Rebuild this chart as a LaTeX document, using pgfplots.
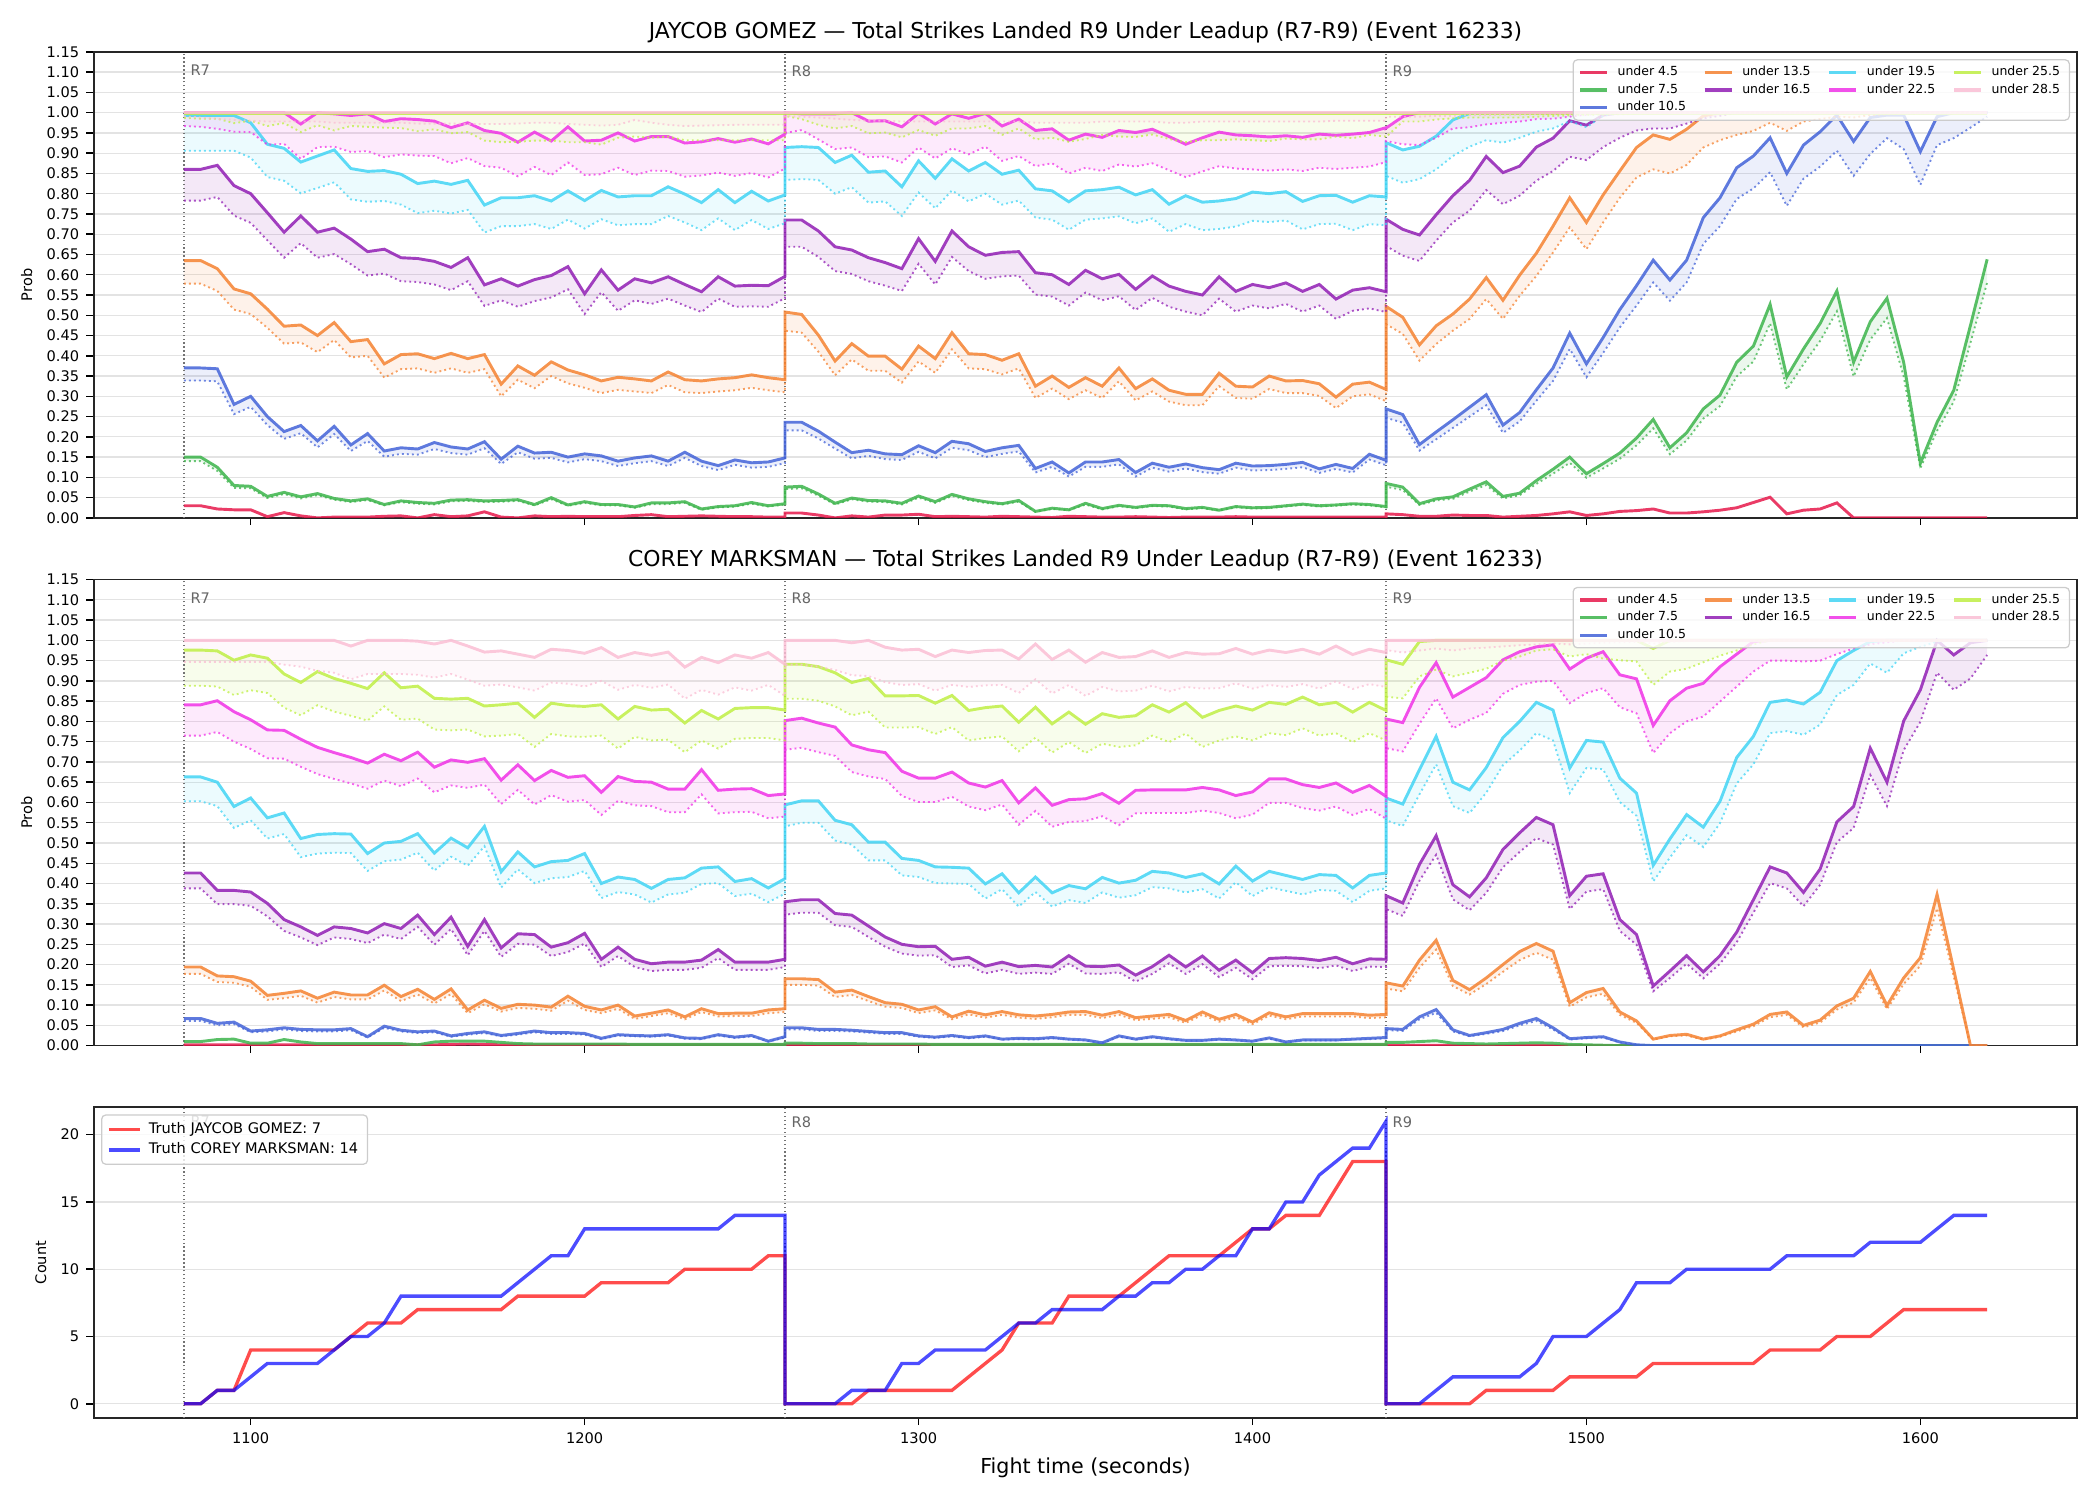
\documentclass[border=0pt]{standalone}
\usepackage{fontspec}
\setmainfont{DejaVu Sans}
\usepackage{pgfplots}
\usepackage{pgfplotstable}
\usepgfplotslibrary{fillbetween}
\pgfplotsset{compat=1.18}

\definecolor{c4}{HTML}{E6194B}
\definecolor{c7}{HTML}{3CB44B}
\definecolor{c10}{HTML}{4363D8}
\definecolor{c13}{HTML}{F58231}
\definecolor{c16}{HTML}{911EB4}
\definecolor{c19}{HTML}{42D4F4}
\definecolor{c22}{HTML}{F032E6}
\definecolor{c25}{HTML}{BFEF45}
\definecolor{c28}{HTML}{FABED4}

% JAYCOB GOMEZ: a = probability of "under X", g = gap down to the dotted lower line
\pgfplotstableread{
t a4 a7 a10 a13 a16 a19 a22 a25 a28 g7 g10 g13 g16 g19 g22 g25 g28
1080 0.030 0.150 0.370 0.635 0.860 0.993 1.000 0.998 1.000 0.010 0.031 0.057 0.077 0.087 0.033 0.011 0.009
1085 0.030 0.150 0.370 0.635 0.860 0.993 1.000 0.998 1.000 0.010 0.031 0.057 0.077 0.087 0.035 0.013 0.012
1090 0.022 0.125 0.368 0.615 0.870 0.993 1.000 0.998 1.000 0.009 0.031 0.055 0.078 0.087 0.040 0.013 0.015
1095 0.020 0.080 0.280 0.565 0.820 0.993 1.000 0.998 1.000 0.006 0.024 0.051 0.074 0.087 0.047 0.024 0.018
1100 0.020 0.078 0.300 0.553 0.800 0.975 1.000 0.998 1.000 0.005 0.026 0.050 0.072 0.086 0.048 0.018 0.020
1105 0.003 0.053 0.250 0.515 0.753 0.922 1.000 0.998 1.000 0.004 0.021 0.046 0.068 0.081 0.079 0.031 0.022
1110 0.013 0.063 0.213 0.473 0.705 0.912 1.000 0.998 1.000 0.004 0.018 0.043 0.063 0.080 0.077 0.024 0.022
1115 0.005 0.052 0.228 0.476 0.745 0.878 0.972 0.998 1.000 0.004 0.019 0.043 0.067 0.077 0.086 0.046 0.022
1120 0.000 0.060 0.190 0.450 0.705 0.893 1.000 0.998 1.000 0.004 0.016 0.041 0.063 0.079 0.085 0.029 0.022
1125 0.002 0.048 0.226 0.482 0.715 0.908 0.997 0.998 1.000 0.003 0.019 0.043 0.064 0.080 0.081 0.042 0.025
1130 0.002 0.042 0.180 0.435 0.688 0.862 0.993 0.998 1.000 0.003 0.015 0.039 0.062 0.076 0.090 0.031 0.025
1135 0.002 0.047 0.208 0.440 0.657 0.855 0.997 0.998 1.000 0.003 0.018 0.040 0.059 0.075 0.092 0.033 0.025
1140 0.004 0.033 0.165 0.380 0.663 0.857 0.978 0.998 1.000 0.002 0.014 0.034 0.060 0.075 0.088 0.035 0.025
1145 0.005 0.042 0.173 0.403 0.642 0.848 0.985 0.998 1.000 0.003 0.015 0.036 0.058 0.075 0.088 0.036 0.025
1150 0.000 0.038 0.170 0.405 0.640 0.825 0.983 0.998 1.000 0.003 0.014 0.036 0.058 0.073 0.089 0.044 0.027
1155 0.008 0.036 0.186 0.393 0.633 0.831 0.979 0.998 1.000 0.003 0.016 0.035 0.057 0.073 0.086 0.039 0.027
1160 0.003 0.044 0.175 0.406 0.618 0.823 0.963 0.998 1.000 0.003 0.015 0.037 0.056 0.072 0.088 0.049 0.027
1165 0.005 0.045 0.170 0.393 0.642 0.833 0.975 0.998 1.000 0.003 0.014 0.035 0.058 0.073 0.087 0.046 0.028
1170 0.015 0.042 0.188 0.403 0.575 0.772 0.956 0.998 1.000 0.003 0.016 0.036 0.052 0.068 0.088 0.067 0.028
1175 0.002 0.043 0.145 0.330 0.590 0.790 0.949 0.998 1.000 0.003 0.012 0.030 0.053 0.070 0.085 0.071 0.028
1180 0.000 0.045 0.177 0.375 0.572 0.790 0.927 0.998 1.000 0.003 0.015 0.034 0.051 0.070 0.084 0.070 0.027
1185 0.005 0.033 0.160 0.352 0.588 0.795 0.952 0.998 1.000 0.002 0.014 0.032 0.053 0.070 0.086 0.067 0.025
1190 0.003 0.050 0.162 0.385 0.598 0.782 0.930 0.998 1.000 0.004 0.014 0.035 0.054 0.069 0.084 0.067 0.025
1195 0.004 0.032 0.150 0.365 0.620 0.807 0.965 0.998 1.000 0.002 0.013 0.033 0.056 0.071 0.088 0.071 0.028
1200 0.003 0.040 0.158 0.353 0.553 0.783 0.930 0.998 1.000 0.003 0.013 0.032 0.050 0.069 0.084 0.071 0.030
1205 0.003 0.033 0.153 0.338 0.612 0.808 0.932 0.998 1.000 0.002 0.013 0.030 0.055 0.071 0.084 0.077 0.032
1210 0.003 0.033 0.140 0.347 0.562 0.792 0.950 0.998 1.000 0.002 0.012 0.031 0.051 0.070 0.086 0.060 0.030
1215 0.006 0.027 0.148 0.343 0.590 0.795 0.930 0.998 1.000 0.002 0.013 0.031 0.053 0.070 0.084 0.057 0.018
1220 0.008 0.037 0.153 0.338 0.580 0.795 0.941 0.998 1.000 0.003 0.013 0.030 0.052 0.070 0.084 0.060 0.025
1225 0.003 0.037 0.140 0.360 0.595 0.817 0.941 0.998 1.000 0.003 0.012 0.032 0.054 0.072 0.085 0.057 0.030
1230 0.004 0.040 0.162 0.341 0.576 0.799 0.925 0.998 1.000 0.003 0.014 0.031 0.052 0.070 0.083 0.066 0.033
1235 0.005 0.022 0.140 0.338 0.558 0.778 0.928 0.998 1.000 0.002 0.012 0.030 0.050 0.068 0.083 0.066 0.032
1240 0.004 0.028 0.129 0.343 0.595 0.810 0.936 0.998 1.000 0.002 0.011 0.031 0.054 0.071 0.084 0.066 0.031
1245 0.003 0.030 0.143 0.346 0.572 0.778 0.927 0.998 1.000 0.002 0.012 0.031 0.051 0.068 0.083 0.066 0.030
1250 0.003 0.038 0.136 0.353 0.574 0.806 0.935 0.998 1.000 0.003 0.012 0.032 0.052 0.071 0.084 0.066 0.030
1255 0.002 0.030 0.138 0.346 0.573 0.782 0.923 0.998 1.000 0.002 0.012 0.031 0.052 0.069 0.083 0.066 0.030
1260 0.002 0.035 0.148 0.341 0.596 0.797 0.947 0.998 1.000 0.002 0.013 0.031 0.054 0.070 0.085 0.066 0.030
1260 0.012 0.076 0.236 0.508 0.735 0.914 1.000 0.998 1.000 0.005 0.020 0.046 0.066 0.080 0.050 0.006 0.008
1265 0.012 0.078 0.236 0.502 0.735 0.916 0.997 0.998 1.000 0.005 0.020 0.045 0.066 0.080 0.040 0.014 0.010
1270 0.007 0.059 0.214 0.451 0.708 0.914 0.997 0.998 1.000 0.004 0.018 0.041 0.064 0.080 0.063 0.028 0.012
1275 0.000 0.036 0.187 0.387 0.669 0.877 0.997 0.998 1.000 0.003 0.016 0.035 0.060 0.077 0.087 0.037 0.015
1280 0.005 0.049 0.161 0.430 0.661 0.895 1.000 0.998 1.000 0.003 0.014 0.039 0.059 0.079 0.086 0.031 0.018
1285 0.002 0.043 0.167 0.399 0.642 0.853 0.979 0.998 1.000 0.003 0.014 0.036 0.058 0.075 0.089 0.049 0.020
1290 0.007 0.042 0.158 0.399 0.630 0.856 0.980 0.998 1.000 0.003 0.013 0.036 0.057 0.075 0.088 0.047 0.020
1295 0.007 0.036 0.156 0.367 0.615 0.817 0.965 0.998 1.000 0.003 0.013 0.033 0.055 0.072 0.088 0.059 0.022
1300 0.009 0.054 0.178 0.424 0.689 0.881 0.998 0.998 1.000 0.004 0.015 0.038 0.062 0.078 0.084 0.041 0.022
1305 0.003 0.040 0.161 0.393 0.633 0.838 0.972 0.998 1.000 0.003 0.014 0.035 0.057 0.074 0.085 0.055 0.022
1310 0.004 0.058 0.189 0.457 0.708 0.886 0.997 0.998 1.000 0.004 0.016 0.041 0.064 0.078 0.085 0.037 0.022
1315 0.003 0.047 0.183 0.405 0.669 0.856 0.986 0.998 1.000 0.003 0.016 0.036 0.060 0.075 0.089 0.037 0.022
1320 0.002 0.040 0.164 0.403 0.648 0.877 0.998 0.998 1.000 0.003 0.014 0.036 0.058 0.077 0.082 0.031 0.022
1325 0.004 0.035 0.173 0.389 0.655 0.848 0.967 0.998 1.000 0.002 0.015 0.035 0.059 0.075 0.086 0.053 0.022
1330 0.003 0.043 0.179 0.405 0.657 0.858 0.984 0.998 1.000 0.003 0.015 0.036 0.059 0.075 0.091 0.037 0.022
1335 0.002 0.016 0.122 0.325 0.605 0.812 0.956 0.998 1.000 0.001 0.010 0.029 0.054 0.071 0.088 0.064 0.025
1340 0.001 0.024 0.138 0.350 0.600 0.807 0.960 0.998 1.000 0.002 0.012 0.031 0.054 0.071 0.085 0.060 0.025
1345 0.004 0.020 0.111 0.322 0.576 0.780 0.932 0.998 1.000 0.001 0.009 0.029 0.052 0.069 0.082 0.070 0.025
1350 0.003 0.036 0.138 0.346 0.611 0.807 0.947 0.998 1.000 0.003 0.012 0.031 0.055 0.071 0.083 0.063 0.025
1355 0.002 0.023 0.138 0.325 0.590 0.810 0.939 0.998 1.000 0.002 0.012 0.029 0.053 0.071 0.083 0.053 0.022
1360 0.002 0.031 0.144 0.370 0.601 0.816 0.956 0.998 1.000 0.002 0.012 0.033 0.054 0.072 0.084 0.057 0.022
1365 0.003 0.026 0.112 0.319 0.564 0.797 0.951 0.998 1.000 0.002 0.010 0.029 0.051 0.070 0.084 0.058 0.022
1370 0.002 0.031 0.135 0.343 0.597 0.810 0.959 0.998 1.000 0.002 0.011 0.031 0.054 0.071 0.084 0.052 0.022
1375 0.001 0.030 0.125 0.315 0.572 0.774 0.941 0.998 1.000 0.002 0.011 0.028 0.051 0.068 0.083 0.063 0.025
1380 0.002 0.023 0.133 0.305 0.559 0.795 0.922 0.998 1.000 0.002 0.011 0.027 0.050 0.070 0.081 0.071 0.025
1385 0.002 0.026 0.124 0.305 0.550 0.779 0.938 0.998 1.000 0.002 0.011 0.027 0.050 0.069 0.083 0.066 0.022
1390 0.002 0.019 0.119 0.357 0.595 0.782 0.952 0.998 1.000 0.001 0.010 0.032 0.054 0.069 0.084 0.066 0.022
1395 0.003 0.028 0.135 0.325 0.559 0.788 0.945 0.998 1.000 0.002 0.011 0.029 0.050 0.069 0.083 0.064 0.022
1400 0.002 0.025 0.128 0.323 0.576 0.804 0.943 0.998 1.000 0.002 0.011 0.029 0.052 0.071 0.083 0.066 0.022
1405 0.002 0.026 0.129 0.350 0.568 0.800 0.940 0.998 1.000 0.002 0.011 0.032 0.051 0.070 0.083 0.068 0.022
1410 0.002 0.030 0.132 0.338 0.580 0.805 0.943 0.998 1.000 0.002 0.011 0.030 0.052 0.071 0.083 0.062 0.022
1415 0.002 0.034 0.137 0.339 0.559 0.781 0.939 0.998 1.000 0.002 0.012 0.031 0.050 0.069 0.083 0.064 0.022
1420 0.002 0.030 0.121 0.331 0.576 0.795 0.947 0.998 1.000 0.002 0.010 0.030 0.052 0.070 0.083 0.064 0.022
1425 0.002 0.032 0.132 0.298 0.540 0.796 0.944 0.998 1.000 0.002 0.011 0.027 0.049 0.070 0.083 0.057 0.020
1430 0.002 0.035 0.122 0.330 0.562 0.779 0.947 0.998 1.000 0.002 0.010 0.030 0.051 0.069 0.083 0.061 0.020
1435 0.002 0.033 0.157 0.335 0.568 0.795 0.951 0.998 1.000 0.002 0.013 0.030 0.051 0.070 0.084 0.053 0.020
1440 0.002 0.028 0.142 0.317 0.558 0.792 0.963 0.998 1.000 0.002 0.012 0.029 0.050 0.070 0.085 0.057 0.020
1440 0.010 0.085 0.269 0.522 0.737 0.926 0.962 0.998 1.000 0.008 0.022 0.044 0.066 0.082 0.032 0.058 0.010
1445 0.008 0.076 0.255 0.495 0.712 0.908 0.990 0.998 1.000 0.007 0.020 0.041 0.065 0.081 0.068 0.020 0.010
1450 0.004 0.035 0.181 0.427 0.698 0.917 1.000 0.998 1.000 0.003 0.015 0.039 0.064 0.081 0.080 0.020 0.010
1455 0.004 0.047 0.212 0.474 0.748 0.942 1.000 0.998 1.000 0.004 0.018 0.045 0.064 0.082 0.062 0.015 0.008
1460 0.007 0.052 0.242 0.503 0.795 0.982 1.000 0.998 1.000 0.005 0.020 0.041 0.066 0.089 0.039 0.012 0.008
1465 0.006 0.071 0.273 0.540 0.833 0.998 1.000 0.998 1.000 0.006 0.023 0.049 0.075 0.082 0.036 0.010 0.006
1470 0.006 0.089 0.304 0.593 0.892 1.000 1.000 0.998 1.000 0.008 0.026 0.053 0.083 0.068 0.029 0.010 0.006
1475 0.002 0.053 0.229 0.537 0.852 1.000 1.000 0.998 1.000 0.005 0.019 0.046 0.078 0.074 0.025 0.010 0.005
1480 0.004 0.061 0.260 0.599 0.868 1.000 1.000 0.998 1.000 0.005 0.022 0.051 0.073 0.062 0.022 0.010 0.005
1485 0.006 0.092 0.316 0.653 0.915 1.000 1.000 0.998 1.000 0.008 0.027 0.056 0.083 0.047 0.016 0.008 0.004
1490 0.010 0.120 0.370 0.720 0.937 1.000 1.000 0.998 1.000 0.011 0.032 0.065 0.081 0.039 0.015 0.006 0.004
1495 0.015 0.150 0.456 0.790 0.980 1.000 1.000 0.998 1.000 0.014 0.039 0.073 0.089 0.021 0.010 0.005 0.003
1500 0.006 0.109 0.380 0.729 0.969 1.000 1.000 0.998 1.000 0.010 0.033 0.066 0.086 0.036 0.005 0.004 0.003
1505 0.010 0.134 0.445 0.797 0.994 1.000 1.000 0.998 1.000 0.012 0.038 0.068 0.079 0.008 0.002 0.003 0.002
1510 0.016 0.160 0.514 0.856 1.000 1.000 1.000 0.998 1.000 0.014 0.044 0.066 0.062 0.000 0.000 0.002 0.002
1515 0.018 0.197 0.573 0.914 1.000 1.000 1.000 0.998 1.000 0.018 0.049 0.074 0.044 0.000 0.000 0.001 0.000
1520 0.022 0.243 0.636 0.945 1.000 1.000 1.000 0.998 1.000 0.022 0.055 0.085 0.039 0.000 0.000 0.000 0.000
1525 0.012 0.173 0.587 0.934 1.000 1.000 1.000 0.998 1.000 0.016 0.051 0.084 0.039 0.000 0.000 0.000 0.000
1530 0.012 0.210 0.636 0.959 1.000 1.000 1.000 0.998 1.000 0.019 0.055 0.088 0.027 0.000 0.000 0.000 0.000
1535 0.015 0.269 0.741 0.992 1.000 1.000 1.000 0.998 1.000 0.024 0.065 0.078 0.014 0.000 0.000 0.000 0.000
1540 0.019 0.303 0.790 1.000 1.000 1.000 1.000 0.998 1.000 0.027 0.070 0.068 0.008 0.000 0.000 0.000 0.000
1545 0.025 0.384 0.864 1.000 1.000 1.000 1.000 0.998 1.000 0.035 0.077 0.055 0.000 0.000 0.000 0.000 0.000
1550 0.038 0.424 0.893 1.000 1.000 1.000 1.000 0.998 1.000 0.038 0.080 0.045 0.000 0.000 0.000 0.000 0.000
1555 0.051 0.527 0.938 1.000 1.000 1.000 1.000 0.998 1.000 0.047 0.085 0.025 0.000 0.000 0.000 0.000 0.000
1560 0.010 0.348 0.850 1.000 1.000 1.000 1.000 0.998 1.000 0.031 0.080 0.045 0.000 0.000 0.000 0.000 0.000
1565 0.019 0.417 0.920 1.000 1.000 1.000 1.000 0.998 1.000 0.038 0.083 0.022 0.000 0.000 0.000 0.000 0.000
1570 0.022 0.480 0.953 1.000 1.000 1.000 1.000 0.998 1.000 0.043 0.086 0.016 0.000 0.000 0.000 0.000 0.000
1575 0.037 0.560 0.994 1.000 1.000 1.000 1.000 0.998 1.000 0.050 0.088 0.010 0.000 0.000 0.000 0.000 0.000
1580 0.000 0.384 0.929 1.000 1.000 1.000 1.000 0.998 1.000 0.035 0.085 0.012 0.000 0.000 0.000 0.000 0.000
1585 0.000 0.484 0.988 1.000 1.000 1.000 1.000 0.998 1.000 0.044 0.090 0.006 0.000 0.000 0.000 0.000 0.000
1590 0.000 0.542 0.994 1.000 1.000 1.000 1.000 0.998 1.000 0.049 0.057 0.004 0.000 0.000 0.000 0.000 0.000
1595 0.000 0.384 0.994 1.000 1.000 1.000 1.000 0.998 1.000 0.035 0.084 0.003 0.000 0.000 0.000 0.000 0.000
1600 0.000 0.135 0.904 1.000 1.000 1.000 1.000 0.998 1.000 0.012 0.082 0.002 0.000 0.000 0.000 0.000 0.000
1605 0.000 0.236 0.990 1.000 1.000 1.000 1.000 0.998 1.000 0.021 0.070 0.000 0.000 0.000 0.000 0.000 0.000
1610 0.000 0.315 1.000 1.000 1.000 1.000 1.000 0.998 1.000 0.028 0.063 0.000 0.000 0.000 0.000 0.000 0.000
1615 0.000 0.475 1.000 1.000 1.000 1.000 1.000 0.998 1.000 0.043 0.037 0.000 0.000 0.000 0.000 0.000 0.000
1620 0.000 0.638 1.000 1.000 1.000 1.000 1.000 0.998 1.000 0.057 0.010 0.000 0.000 0.000 0.000 0.000 0.000
}\jgdata

% COREY MARKSMAN
\pgfplotstableread{
t a4 a7 a10 a13 a16 a19 a22 a25 a28 g10 g13 g16 g19 g22 g25 g28
1080 0.002 0.010 0.067 0.194 0.426 0.663 0.841 0.976 1.000 0.006 0.017 0.038 0.060 0.076 0.088 0.053
1085 0.002 0.010 0.067 0.194 0.426 0.663 0.841 0.976 1.000 0.006 0.017 0.038 0.060 0.076 0.088 0.053
1090 0.002 0.015 0.055 0.172 0.383 0.650 0.851 0.974 1.000 0.005 0.015 0.034 0.059 0.077 0.088 0.053
1095 0.002 0.016 0.058 0.170 0.383 0.590 0.824 0.951 1.000 0.005 0.015 0.034 0.053 0.074 0.086 0.053
1100 0.002 0.006 0.036 0.159 0.379 0.611 0.804 0.964 1.000 0.003 0.014 0.034 0.055 0.072 0.087 0.053
1105 0.002 0.006 0.039 0.124 0.351 0.562 0.779 0.956 1.000 0.004 0.011 0.032 0.051 0.070 0.086 0.053
1110 0.002 0.015 0.044 0.129 0.311 0.574 0.778 0.917 1.000 0.004 0.012 0.028 0.052 0.070 0.083 0.060
1115 0.002 0.009 0.040 0.135 0.293 0.511 0.756 0.896 1.000 0.004 0.012 0.026 0.046 0.068 0.081 0.065
1120 0.002 0.005 0.039 0.117 0.272 0.521 0.736 0.923 1.000 0.004 0.011 0.024 0.047 0.066 0.083 0.075
1125 0.002 0.005 0.039 0.132 0.293 0.523 0.723 0.906 1.000 0.004 0.012 0.026 0.047 0.065 0.082 0.080
1130 0.002 0.005 0.042 0.125 0.289 0.522 0.711 0.894 0.986 0.004 0.011 0.026 0.047 0.064 0.080 0.082
1135 0.002 0.005 0.022 0.125 0.278 0.474 0.697 0.881 1.000 0.002 0.011 0.025 0.043 0.063 0.079 0.083
1140 0.002 0.005 0.048 0.149 0.301 0.500 0.719 0.920 1.000 0.004 0.013 0.027 0.045 0.065 0.083 0.083
1145 0.002 0.005 0.038 0.121 0.289 0.504 0.703 0.883 1.000 0.003 0.011 0.026 0.045 0.063 0.079 0.083
1150 0.002 0.002 0.034 0.139 0.322 0.523 0.724 0.887 0.998 0.003 0.013 0.029 0.047 0.065 0.080 0.083
1155 0.002 0.009 0.036 0.114 0.274 0.475 0.687 0.857 0.991 0.003 0.010 0.025 0.043 0.062 0.077 0.083
1160 0.003 0.011 0.024 0.140 0.317 0.512 0.705 0.855 1.000 0.002 0.013 0.029 0.046 0.063 0.077 0.083
1165 0.004 0.011 0.030 0.088 0.245 0.488 0.699 0.857 0.986 0.003 0.008 0.022 0.044 0.063 0.077 0.083
1170 0.003 0.011 0.034 0.112 0.311 0.541 0.708 0.838 0.971 0.003 0.010 0.028 0.049 0.064 0.075 0.083
1175 0.002 0.008 0.025 0.092 0.241 0.429 0.655 0.841 0.974 0.002 0.008 0.022 0.039 0.059 0.076 0.083
1180 0.002 0.005 0.030 0.102 0.276 0.478 0.693 0.845 0.966 0.003 0.009 0.025 0.043 0.062 0.076 0.082
1185 0.002 0.004 0.036 0.100 0.274 0.441 0.654 0.810 0.958 0.003 0.009 0.025 0.040 0.059 0.073 0.082
1190 0.002 0.004 0.032 0.095 0.243 0.454 0.679 0.845 0.978 0.003 0.009 0.022 0.041 0.061 0.076 0.082
1195 0.002 0.004 0.032 0.122 0.254 0.457 0.662 0.839 0.975 0.003 0.011 0.023 0.041 0.060 0.076 0.082
1200 0.002 0.004 0.030 0.097 0.277 0.474 0.666 0.837 0.968 0.003 0.009 0.025 0.043 0.060 0.075 0.082
1205 0.002 0.004 0.018 0.088 0.213 0.400 0.625 0.841 0.982 0.002 0.008 0.019 0.036 0.056 0.076 0.082
1210 0.002 0.004 0.027 0.100 0.243 0.416 0.664 0.806 0.958 0.002 0.009 0.022 0.037 0.060 0.073 0.080
1215 0.002 0.003 0.025 0.073 0.213 0.410 0.652 0.837 0.970 0.002 0.007 0.019 0.037 0.059 0.075 0.080
1220 0.002 0.003 0.024 0.080 0.202 0.388 0.650 0.828 0.963 0.002 0.007 0.018 0.035 0.059 0.075 0.080
1225 0.002 0.003 0.027 0.088 0.206 0.410 0.633 0.830 0.971 0.002 0.008 0.019 0.037 0.057 0.075 0.080
1230 0.002 0.003 0.019 0.071 0.206 0.414 0.633 0.796 0.934 0.002 0.006 0.019 0.037 0.057 0.072 0.078
1235 0.002 0.003 0.018 0.091 0.211 0.438 0.681 0.827 0.958 0.002 0.008 0.019 0.039 0.061 0.074 0.080
1240 0.002 0.003 0.027 0.079 0.237 0.441 0.630 0.806 0.945 0.002 0.007 0.021 0.040 0.057 0.073 0.079
1245 0.002 0.003 0.021 0.080 0.206 0.405 0.633 0.832 0.964 0.002 0.007 0.019 0.036 0.057 0.075 0.080
1250 0.002 0.003 0.025 0.080 0.206 0.412 0.634 0.834 0.956 0.002 0.007 0.019 0.037 0.057 0.075 0.080
1255 0.002 0.003 0.011 0.088 0.206 0.389 0.617 0.834 0.970 0.001 0.008 0.019 0.035 0.056 0.075 0.080
1260 0.002 0.003 0.022 0.091 0.213 0.412 0.621 0.828 0.941 0.002 0.008 0.019 0.037 0.056 0.075 0.078
1260 0.002 0.006 0.044 0.165 0.355 0.594 0.802 0.941 1.000 0.004 0.015 0.032 0.053 0.072 0.085 0.060
1265 0.002 0.006 0.044 0.165 0.360 0.604 0.808 0.941 1.000 0.004 0.015 0.032 0.054 0.073 0.085 0.060
1270 0.002 0.005 0.040 0.163 0.360 0.604 0.796 0.935 1.000 0.004 0.015 0.032 0.054 0.072 0.084 0.065
1275 0.002 0.005 0.040 0.132 0.326 0.556 0.786 0.920 1.000 0.004 0.012 0.029 0.050 0.071 0.083 0.073
1280 0.002 0.005 0.038 0.137 0.322 0.545 0.742 0.896 0.994 0.003 0.012 0.029 0.049 0.067 0.081 0.080
1285 0.002 0.004 0.035 0.121 0.295 0.502 0.730 0.906 1.000 0.003 0.011 0.027 0.045 0.066 0.082 0.088
1290 0.002 0.004 0.032 0.106 0.268 0.502 0.723 0.863 0.983 0.003 0.010 0.024 0.045 0.065 0.078 0.086
1295 0.002 0.004 0.032 0.102 0.250 0.462 0.677 0.863 0.976 0.003 0.009 0.023 0.042 0.061 0.078 0.086
1300 0.002 0.004 0.024 0.088 0.244 0.457 0.660 0.864 0.978 0.002 0.008 0.022 0.041 0.059 0.078 0.086
1305 0.002 0.003 0.021 0.096 0.245 0.441 0.660 0.845 0.960 0.002 0.009 0.022 0.040 0.059 0.076 0.084
1310 0.002 0.003 0.025 0.071 0.213 0.440 0.675 0.864 0.976 0.002 0.006 0.019 0.040 0.061 0.078 0.086
1315 0.002 0.003 0.020 0.085 0.218 0.438 0.648 0.827 0.970 0.002 0.008 0.020 0.039 0.058 0.074 0.085
1320 0.002 0.003 0.024 0.076 0.196 0.399 0.638 0.834 0.975 0.002 0.007 0.018 0.036 0.057 0.075 0.086
1325 0.002 0.003 0.016 0.084 0.206 0.424 0.654 0.838 0.976 0.001 0.008 0.019 0.038 0.059 0.075 0.086
1330 0.002 0.003 0.018 0.076 0.195 0.377 0.599 0.798 0.954 0.002 0.007 0.018 0.034 0.054 0.072 0.084
1335 0.002 0.003 0.017 0.073 0.198 0.416 0.636 0.835 0.991 0.002 0.007 0.018 0.037 0.057 0.075 0.087
1340 0.002 0.003 0.020 0.077 0.194 0.377 0.593 0.794 0.953 0.002 0.007 0.017 0.034 0.053 0.071 0.084
1345 0.002 0.003 0.016 0.083 0.222 0.395 0.607 0.823 0.976 0.001 0.007 0.020 0.036 0.055 0.074 0.086
1350 0.002 0.003 0.014 0.084 0.196 0.387 0.609 0.793 0.946 0.001 0.008 0.018 0.035 0.055 0.071 0.083
1355 0.002 0.003 0.007 0.075 0.195 0.415 0.622 0.819 0.970 0.001 0.007 0.018 0.037 0.056 0.074 0.085
1360 0.002 0.003 0.024 0.084 0.199 0.401 0.598 0.810 0.958 0.002 0.008 0.018 0.036 0.054 0.073 0.084
1365 0.002 0.003 0.016 0.069 0.174 0.408 0.630 0.814 0.960 0.001 0.006 0.016 0.037 0.057 0.073 0.084
1370 0.002 0.003 0.022 0.073 0.195 0.430 0.631 0.841 0.974 0.002 0.007 0.018 0.039 0.057 0.076 0.086
1375 0.002 0.003 0.017 0.077 0.223 0.426 0.631 0.823 0.958 0.002 0.007 0.020 0.038 0.057 0.074 0.084
1380 0.002 0.003 0.013 0.062 0.194 0.415 0.631 0.846 0.970 0.001 0.006 0.017 0.037 0.057 0.076 0.085
1385 0.002 0.003 0.013 0.083 0.221 0.424 0.637 0.810 0.966 0.001 0.007 0.020 0.038 0.057 0.073 0.085
1390 0.002 0.003 0.016 0.065 0.186 0.399 0.631 0.827 0.967 0.001 0.006 0.017 0.036 0.057 0.074 0.085
1395 0.002 0.003 0.014 0.077 0.211 0.443 0.617 0.838 0.980 0.001 0.007 0.019 0.040 0.056 0.075 0.086
1400 0.002 0.003 0.011 0.058 0.180 0.406 0.626 0.828 0.966 0.001 0.005 0.016 0.037 0.056 0.075 0.085
1405 0.002 0.003 0.019 0.081 0.215 0.430 0.658 0.847 0.976 0.002 0.007 0.019 0.039 0.059 0.076 0.086
1410 0.002 0.003 0.009 0.071 0.217 0.420 0.658 0.842 0.970 0.001 0.006 0.020 0.038 0.059 0.076 0.085
1415 0.002 0.003 0.014 0.079 0.215 0.410 0.644 0.860 0.978 0.001 0.007 0.019 0.037 0.058 0.077 0.086
1420 0.002 0.003 0.014 0.079 0.210 0.422 0.637 0.841 0.966 0.001 0.007 0.019 0.038 0.057 0.076 0.085
1425 0.002 0.003 0.014 0.079 0.218 0.420 0.648 0.847 0.986 0.001 0.007 0.020 0.038 0.058 0.076 0.087
1430 0.002 0.003 0.016 0.079 0.202 0.389 0.625 0.823 0.965 0.001 0.007 0.018 0.035 0.056 0.074 0.085
1435 0.002 0.003 0.018 0.075 0.214 0.420 0.642 0.847 0.978 0.002 0.007 0.019 0.038 0.058 0.076 0.086
1440 0.002 0.003 0.020 0.077 0.213 0.426 0.615 0.827 0.970 0.002 0.007 0.019 0.038 0.055 0.074 0.085
1440 0.001 0.008 0.042 0.155 0.370 0.611 0.806 0.952 1.000 0.004 0.014 0.033 0.055 0.072 0.091 0.024
1445 0.001 0.008 0.040 0.147 0.352 0.596 0.797 0.941 1.000 0.004 0.013 0.032 0.054 0.071 0.084 0.030
1450 0.001 0.010 0.071 0.211 0.447 0.681 0.884 0.997 1.000 0.006 0.019 0.040 0.061 0.090 0.086 0.025
1455 0.001 0.012 0.089 0.260 0.518 0.763 0.945 1.000 1.000 0.008 0.023 0.047 0.069 0.088 0.072 0.020
1460 0.000 0.006 0.039 0.161 0.397 0.650 0.860 1.000 1.000 0.004 0.014 0.036 0.059 0.077 0.089 0.025
1465 0.000 0.005 0.025 0.138 0.367 0.631 0.884 1.000 1.000 0.002 0.012 0.033 0.057 0.080 0.080 0.020
1470 0.000 0.004 0.032 0.167 0.414 0.686 0.908 1.000 1.000 0.003 0.015 0.037 0.062 0.087 0.070 0.018
1475 0.000 0.005 0.040 0.200 0.484 0.760 0.952 1.000 1.000 0.004 0.018 0.044 0.068 0.084 0.050 0.015
1480 0.000 0.006 0.055 0.232 0.525 0.800 0.972 1.000 1.000 0.005 0.021 0.047 0.072 0.082 0.040 0.012
1485 0.000 0.007 0.067 0.252 0.563 0.847 0.984 1.000 1.000 0.006 0.023 0.051 0.076 0.086 0.025 0.010
1490 0.000 0.006 0.044 0.233 0.545 0.828 0.989 1.000 1.000 0.004 0.021 0.049 0.075 0.089 0.022 0.008
1495 0.000 0.003 0.017 0.106 0.370 0.685 0.929 1.000 1.000 0.002 0.010 0.033 0.062 0.084 0.040 0.010
1500 0.000 0.002 0.020 0.131 0.418 0.753 0.956 1.000 1.000 0.002 0.012 0.038 0.068 0.086 0.034 0.008
1505 0.000 0.001 0.022 0.141 0.424 0.749 0.972 1.000 1.000 0.002 0.013 0.038 0.067 0.090 0.045 0.006
1510 0.000 0.000 0.009 0.083 0.311 0.660 0.915 1.000 1.000 0.001 0.007 0.028 0.059 0.080 0.049 0.005
1515 0.000 0.000 0.002 0.061 0.274 0.623 0.905 1.000 1.000 0.000 0.005 0.025 0.056 0.085 0.052 0.004
1520 0.000 0.000 0.000 0.016 0.147 0.445 0.790 0.980 1.000 0.000 0.001 0.013 0.040 0.068 0.090 0.008
1525 0.000 0.000 0.000 0.025 0.184 0.510 0.851 1.000 1.000 0.000 0.002 0.017 0.046 0.080 0.077 0.004
1530 0.000 0.000 0.000 0.028 0.222 0.570 0.882 1.000 1.000 0.000 0.003 0.020 0.051 0.082 0.070 0.002
1535 0.000 0.000 0.000 0.016 0.182 0.539 0.894 1.000 1.000 0.000 0.001 0.016 0.049 0.082 0.054 0.000
1540 0.000 0.000 0.000 0.024 0.222 0.603 0.935 1.000 1.000 0.000 0.002 0.020 0.054 0.086 0.038 0.000
1545 0.000 0.000 0.000 0.039 0.280 0.711 0.966 1.000 1.000 0.000 0.004 0.025 0.064 0.080 0.025 0.000
1550 0.000 0.000 0.000 0.053 0.360 0.763 0.997 1.000 1.000 0.000 0.005 0.032 0.069 0.074 0.010 0.000
1555 0.000 0.000 0.000 0.077 0.441 0.847 1.000 1.000 1.000 0.000 0.007 0.040 0.076 0.050 0.000 0.000
1560 0.000 0.000 0.000 0.083 0.426 0.853 1.000 1.000 1.000 0.000 0.007 0.038 0.077 0.050 0.000 0.000
1565 0.000 0.000 0.000 0.050 0.378 0.843 1.000 1.000 1.000 0.000 0.005 0.034 0.076 0.052 0.000 0.000
1570 0.000 0.000 0.000 0.063 0.436 0.872 1.000 1.000 1.000 0.000 0.006 0.039 0.080 0.050 0.000 0.000
1575 0.000 0.000 0.000 0.098 0.552 0.950 1.000 1.000 1.000 0.000 0.009 0.050 0.085 0.034 0.000 0.000
1580 0.000 0.000 0.000 0.117 0.590 0.975 1.000 1.000 1.000 0.000 0.011 0.053 0.085 0.020 0.000 0.000
1585 0.000 0.000 0.000 0.183 0.734 0.997 1.000 1.000 1.000 0.000 0.016 0.066 0.054 0.010 0.000 0.000
1590 0.000 0.000 0.000 0.099 0.650 1.000 1.000 1.000 1.000 0.000 0.009 0.059 0.080 0.005 0.000 0.000
1595 0.000 0.000 0.000 0.167 0.801 1.000 1.000 1.000 1.000 0.000 0.015 0.072 0.032 0.000 0.000 0.000
1600 0.000 0.000 0.000 0.217 0.878 1.000 1.000 1.000 1.000 0.000 0.020 0.079 0.016 0.000 0.000 0.000
1605 0.000 0.000 0.000 0.373 1.000 1.000 1.000 1.000 1.000 0.000 0.034 0.080 0.003 0.000 0.000 0.000
1610 0.000 0.000 0.000 0.187 0.964 1.000 1.000 1.000 1.000 0.000 0.017 0.086 0.000 0.000 0.000 0.000
1615 0.000 0.000 0.000 0.000 0.994 1.000 1.000 1.000 1.000 0.000 0.000 0.088 0.000 0.000 0.000 0.000
1620 0.000 0.000 0.000 0.000 1.000 1.000 1.000 1.000 1.000 0.000 0.000 0.036 0.000 0.000 0.000 0.000
}\cmdata

% running strike counts within each round
\pgfplotstableread{
t jg cm
1080 0 0
1085 0 0
1090 1 1
1095 1 1
1100 4 2
1105 4 3
1110 4 3
1115 4 3
1120 4 3
1125 4 4
1130 5 5
1135 6 5
1140 6 6
1145 6 8
1150 7 8
1155 7 8
1160 7 8
1165 7 8
1170 7 8
1175 7 8
1180 8 9
1185 8 10
1190 8 11
1195 8 11
1200 8 13
1205 9 13
1210 9 13
1215 9 13
1220 9 13
1225 9 13
1230 10 13
1235 10 13
1240 10 13
1245 10 14
1250 10 14
1255 11 14
1260 11 14
1260 0 0
1265 0 0
1270 0 0
1275 0 0
1280 0 1
1285 1 1
1290 1 1
1295 1 3
1300 1 3
1305 1 4
1310 1 4
1315 2 4
1320 3 4
1325 4 5
1330 6 6
1335 6 6
1340 6 7
1345 8 7
1350 8 7
1355 8 7
1360 8 8
1365 9 8
1370 10 9
1375 11 9
1380 11 10
1385 11 10
1390 11 11
1395 12 11
1400 13 13
1405 13 13
1410 14 15
1415 14 15
1420 14 17
1425 16 18
1430 18 19
1435 18 19
1440 18 21
1440 0 0
1445 0 0
1450 0 0
1455 0 1
1460 0 2
1465 0 2
1470 1 2
1475 1 2
1480 1 2
1485 1 3
1490 1 5
1495 2 5
1500 2 5
1505 2 6
1510 2 7
1515 2 9
1520 3 9
1525 3 9
1530 3 10
1535 3 10
1540 3 10
1545 3 10
1550 3 10
1555 4 10
1560 4 11
1565 4 11
1570 4 11
1575 5 11
1580 5 11
1585 5 12
1590 6 12
1595 7 12
1600 7 12
1605 7 13
1610 7 14
1615 7 14
1620 7 14
}\countdata

\tikzset{
  roundlabel/.style={anchor=north west, inner sep=0pt, xshift=3pt, text=black!60, font=\fontsize{7}{8}\selectfont},
}
\pgfplotsset{
  base/.style={
    scale only axis, width=952.1pt, anchor=south west,
    xmin=1053, xmax=1647,
    tick pos=left, tick align=outside, major tick length=3.5pt,
    tick style={black, line width=0.7pt},
    axis line style={black!85, line width=0.8pt},
    ymajorgrids, grid style={black!11, line width=0.6pt},
    tick label style={font=\fontsize{7}{8}\selectfont},
    /pgf/number format/assume math mode=true,
    xtick={1100,1200,1300,1400,1500,1600},
    ylabel near ticks, xlabel near ticks,
    ylabel style={font=\fontsize{7}{8}\selectfont},
    xlabel style={font=\fontsize{9.9}{11}\selectfont},
    title style={font=\fontsize{10.5}{12}\selectfont, at={(0.5,1)}, anchor=base, yshift=0.5pt},
    legend cell align=left,
  },
  prob/.style={
    base, height=223.7pt, ymin=0, ymax=1.15,
    ytick={0,0.05,0.1,0.15,0.2,0.25,0.3,0.35,0.4,0.45,0.5,0.55,0.6,0.65,0.7,0.75,0.8,0.85,0.9,0.95,1,1.05,1.1,1.15},
    yticklabel style={/pgf/number format/fixed, /pgf/number format/fixed zerofill, /pgf/number format/precision=2},
    xticklabels={}, ylabel={Prob},
    legend columns=4,
    legend image code/.code={\draw[##1] (0pt,0pt) -- (12.9pt,0pt);},
    legend style={at={(1,1)}, anchor=north east, xshift=-3.5pt, yshift=-3.5pt,
      draw=black!20, line width=0.6pt, rounded corners=2pt, fill=white, fill opacity=0.8, text opacity=1,
      font=\fontsize{6}{7}\selectfont, inner xsep=2.5pt, inner ysep=1pt, row sep=-1.6pt,
      /tikz/every odd column/.append style={column sep=2.4pt},
      /tikz/every even column/.append style={column sep=6.2pt}},
  },
  guide/.style={forget plot, black!55, line width=0.6pt, dash pattern=on 0.6pt off 1.3pt},
}

% dotted round boundaries with their names
\newcommand{\rounds}[2]{%
  \addplot[guide] coordinates {(1080,#1) (1080,#2)};
  \addplot[guide] coordinates {(1260,#1) (1260,#2)};
  \addplot[guide] coordinates {(1440,#1) (1440,#2)};
  \node[roundlabel] at ({axis cs:1080,#1}|-{rel axis cs:0,0.972}) {R7};
  \node[roundlabel] at ({axis cs:1260,#1}|-{rel axis cs:0,0.972}) {R8};
  \node[roundlabel] at ({axis cs:1440,#1}|-{rel axis cs:0,0.972}) {R9};
}
% a line on its own
\newcommand{\plain}[3]{%
  \addplot[forget plot, draw=#3, line width=1.4pt, draw opacity=0.85] table[x=t, y=#2]{#1};
}
% a line with its dotted lower line and the shaded band between them
\newcommand{\banded}[5]{%
  \addplot[forget plot, draw=#4, line width=0.9pt, draw opacity=0.75, dash pattern=on 0.9pt off 1.5pt, name path=#5lo]
    table[x=t, y expr=\thisrow{#2}-\thisrow{#3}]{#1};
  \addplot[forget plot, draw=#4, line width=1.4pt, draw opacity=0.85, name path=#5hi] table[x=t, y=#2]{#1};
  \addplot[forget plot, fill=#4, fill opacity=0.1, draw=none] fill between[of=#5hi and #5lo];
}
\newcommand{\problegend}{%
  \addlegendimage{c4, line width=1.5pt, opacity=0.85}\addlegendentry{under 4.5}
  \addlegendimage{c13, line width=1.5pt, opacity=0.85}\addlegendentry{under 13.5}
  \addlegendimage{c19, line width=1.5pt, opacity=0.85}\addlegendentry{under 19.5}
  \addlegendimage{c25, line width=1.5pt, opacity=0.85}\addlegendentry{under 25.5}
  \addlegendimage{c7, line width=1.5pt, opacity=0.85}\addlegendentry{under 7.5}
  \addlegendimage{c16, line width=1.5pt, opacity=0.85}\addlegendentry{under 16.5}
  \addlegendimage{c22, line width=1.5pt, opacity=0.85}\addlegendentry{under 22.5}
  \addlegendimage{c28, line width=1.5pt, opacity=0.85}\addlegendentry{under 28.5}
  \addlegendimage{c10, line width=1.5pt, opacity=0.85}\addlegendentry{under 10.5}
}

\begin{document}
\begin{tikzpicture}

\begin{axis}[prob, at={(45pt,471.2pt)},
  title={JAYCOB GOMEZ — Total Strikes Landed R9 Under Leadup (R7-R9) (Event 16233)}]
  \rounds{0}{1.15}
  \plain{\jgdata}{a4}{c4}
  \banded{\jgdata}{a7}{g7}{c7}{ja}
  \banded{\jgdata}{a10}{g10}{c10}{jb}
  \banded{\jgdata}{a13}{g13}{c13}{jc}
  \banded{\jgdata}{a16}{g16}{c16}{jd}
  \banded{\jgdata}{a19}{g19}{c19}{je}
  \banded{\jgdata}{a22}{g22}{c22}{jf}
  \banded{\jgdata}{a25}{g25}{c25}{jg}
  \banded{\jgdata}{a28}{g28}{c28}{jh}
  \problegend
\end{axis}

\begin{axis}[prob, at={(45pt,217.9pt)},
  title={COREY MARKSMAN — Total Strikes Landed R9 Under Leadup (R7-R9) (Event 16233)}]
  \rounds{0}{1.15}
  \plain{\cmdata}{a4}{c4}
  \plain{\cmdata}{a7}{c7}
  \banded{\cmdata}{a10}{g10}{c10}{cb}
  \banded{\cmdata}{a13}{g13}{c13}{cc}
  \banded{\cmdata}{a16}{g16}{c16}{cd}
  \banded{\cmdata}{a19}{g19}{c19}{ce}
  \banded{\cmdata}{a22}{g22}{c22}{cf}
  \banded{\cmdata}{a25}{g25}{c25}{cg}
  \banded{\cmdata}{a28}{g28}{c28}{ch}
  \problegend
\end{axis}

\begin{axis}[base, at={(45pt,39.2pt)}, height=149.2pt,
  ymin=-1.05, ymax=22.05, ytick={0,5,10,15,20},
  xticklabels={1100,1200,1300,1400,1500,1600},
  xlabel={Fight time (seconds)}, ylabel={Count},
  legend image code/.code={\draw[#1] (0pt,0pt) -- (15pt,0pt);},
  legend style={at={(0,1)}, anchor=north west, xshift=3.5pt, yshift=-3.5pt,
    draw=black!20, line width=0.6pt, rounded corners=2pt, fill=white, fill opacity=0.8, text opacity=1,
    font=\fontsize{7}{8.5}\selectfont, inner xsep=2.5pt, inner ysep=1.5pt, row sep=-1pt,
    /tikz/every odd column/.append style={column sep=1.6pt}}]
  \rounds{-1.05}{22.05}
  \addplot[red, line width=1.6pt, draw opacity=0.7] table[x=t, y=jg]{\countdata};
  \addlegendentry{Truth JAYCOB GOMEZ: 7}
  \addplot[blue, line width=1.6pt, draw opacity=0.7] table[x=t, y=cm]{\countdata};
  \addlegendentry{Truth COREY MARKSMAN: 14}
\end{axis}

% page frame
\pgfresetboundingbox
\path[use as bounding box] (0pt,0.2pt) rectangle (1008pt,719.8pt);
\end{tikzpicture}
\end{document}
